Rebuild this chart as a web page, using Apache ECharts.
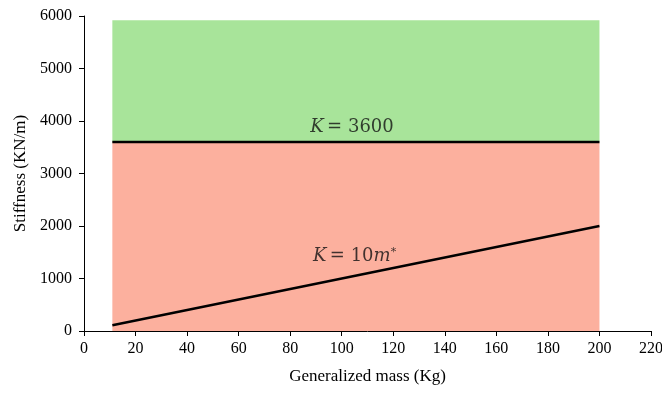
<!doctype html>
<html>
<head>
    <meta charset="utf-8">
    <title>Stiffness vs generalized mass</title>
    <style>
        html, body { margin: 0; padding: 0; background: #fff; }
        #chart { width: 662px; height: 393px; }
    </style>
</head>
<body>
<div id="chart"></div>
<script src="https://cdn.jsdelivr.net/npm/echarts@6/dist/echarts.min.js"></script>
<script>
    // data
    var massRange = [11, 200];          // extent of the shaded regions (Kg)
    var limitK = 3600;                  // K = 3600 line (KN/m)
    var greenTop = 5920;                // top of green region
    var lineMass = [11, 200];           // K = 10m* line
    var lineStiff = [110, 2000];
    var xTicks = { min: 0, max: 220, step: 20 };
    var yTicks = { min: 0, max: 6000, step: 1000 };

    var serif = '"Liberation Serif", "DejaVu Serif", serif';
    var mathFont = '"DejaVu Serif", serif';
    var chart = echarts.init(document.getElementById('chart'));

    var option = {
        animation: false,
        grid: { left: 84, right: 11, top: 16, bottom: 62, outerBoundsMode: 'none', containLabel: false },
        xAxis: {
            type: 'value',
            min: xTicks.min, max: xTicks.max, interval: xTicks.step,
            name: 'Generalized mass (Kg)',
            nameLocation: 'middle',
            nameGap: 37,
            nameTextStyle: { fontFamily: serif, fontSize: 17, color: '#000' },
            axisLine: { lineStyle: { color: '#000', width: 1 } },
            axisTick: { show: true, length: 5, lineStyle: { color: '#000' } },
            axisLabel: { fontFamily: serif, fontSize: 16, color: '#000', margin: 10 },
            splitLine: { show: false }
        },
        yAxis: {
            type: 'value',
            min: yTicks.min, max: yTicks.max, interval: yTicks.step,
            name: 'Stiffness (KN/m)',
            nameLocation: 'middle',
            nameGap: 52,
            nameTextStyle: { fontFamily: serif, fontSize: 17, color: '#000' },
            axisLine: { show: true, lineStyle: { color: '#000', width: 1 } },
            axisTick: { show: true, length: 5, lineStyle: { color: '#000' } },
            axisLabel: {
                fontFamily: serif, fontSize: 16, color: '#000', margin: 12,
                formatter: function (v) { return String(v); }
            },
            splitLine: { show: false }
        },
        series: [
            {
                type: 'line',
                data: [],
                markArea: {
                    silent: true,
                    data: [
                        [{ coord: [massRange[0], limitK], itemStyle: { color: '#a8e49a' } },
                         { coord: [massRange[1], greenTop] }],
                        [{ coord: [massRange[0], 0], itemStyle: { color: '#fcb09e' } },
                         { coord: [massRange[1], limitK] }]
                    ]
                }
            },
            {
                type: 'line',
                data: [[massRange[0], limitK], [massRange[1], limitK]],
                symbol: 'none',
                lineStyle: { color: '#000', width: 2.5 },
                z: 5
            },
            {
                type: 'line',
                data: lineMass.map(function (m, i) { return [m, lineStiff[i]]; }),
                symbol: 'none',
                lineStyle: { color: '#000', width: 2.5 },
                z: 5
            },
            {
                type: 'scatter',
                symbolSize: 0,
                z: 6,
                data: [
                    { value: [104, 3870], name: 'a' },
                    { value: [105, 1420], name: 'b' }
                ],
                label: {
                    show: true,
                    position: 'inside',
                    formatter: function (p) {
                        return p.name === 'a'
                            ? '{i|K} {n|= 3600}'
                            : '{i|K} {n|= 10}{i|m}{s|*}';
                    },
                    rich: {
                        i: { fontFamily: mathFont, fontStyle: 'italic', fontSize: 18, color: '#111' },
                        n: { fontFamily: mathFont, fontSize: 18, color: '#111' },
                        s: { fontFamily: mathFont, fontSize: 11, color: '#111', verticalAlign: 'top', padding: [0, 0, 8, 0] }
                    }
                }
            }
        ]
    };
    chart.setOption(option);
</script>
</body>
</html>
